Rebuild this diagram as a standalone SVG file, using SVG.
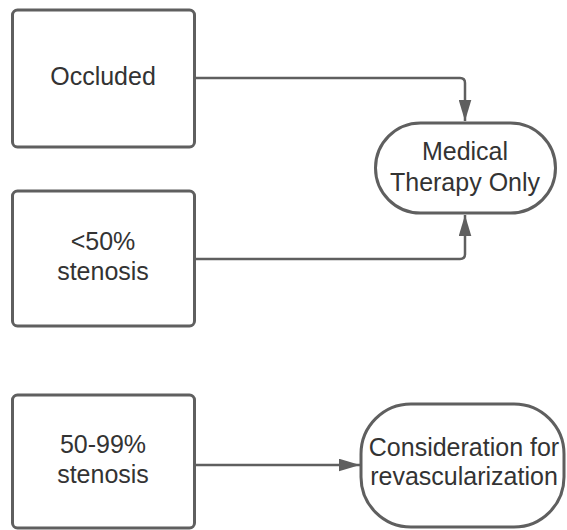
<svg xmlns="http://www.w3.org/2000/svg" width="567" height="530" viewBox="0 0 567 530">
<defs>
<style>
.box{fill:#fff;stroke:#5f5f5f;stroke-width:3}
.conn{fill:none;stroke:#5f5f5f;stroke-width:2.5}
.t{font-family:"Liberation Sans",Arial,sans-serif;font-size:25px;fill:#333;text-anchor:middle}
</style>
<marker id="ah" viewBox="0 0 20 12" refX="20" refY="6" markerWidth="8.4" markerHeight="5.2" markerUnits="strokeWidth" orient="auto">
<path d="M0,0 L20,6 L0,12 z" fill="#5f5f5f"/>
</marker>
</defs>
<rect width="567" height="530" fill="#fff"/>
<g id="connectors">
<path class="conn" d="M194,78 H460 Q465,78 465,83 V121" marker-end="url(#ah)"/>
<path class="conn" d="M194,259 H460 Q465,259 465,254 V215" marker-end="url(#ah)"/>
<path class="conn" d="M194,465 H360" marker-end="url(#ah)"/>
</g>
<g id="occluded">
<rect class="box" x="12.5" y="10" width="182" height="137" rx="5"/>
<text class="t" x="103" y="85">Occluded</text>
</g>
<g id="lt50">
<rect class="box" x="12.5" y="191" width="182" height="135" rx="5"/>
<text class="t" x="103" y="250">&lt;50%</text>
<text class="t" x="103" y="280">stenosis</text>
</g>
<g id="s5099">
<rect class="box" x="12.5" y="395" width="182" height="133" rx="5"/>
<text class="t" x="103" y="453">50-99%</text>
<text class="t" x="103" y="483">stenosis</text>
</g>
<g id="medical">
<rect class="box" x="375.5" y="123" width="180" height="90" rx="45"/>
<text class="t" x="465" y="160">Medical</text>
<text class="t" x="465" y="191">Therapy Only</text>
</g>
<g id="revasc">
<rect class="box" x="361" y="404" width="203" height="123" rx="50"/>
<text class="t" x="464" y="456">Consideration for</text>
<text class="t" x="464" y="485">revascularization</text>
</g>
</svg>
